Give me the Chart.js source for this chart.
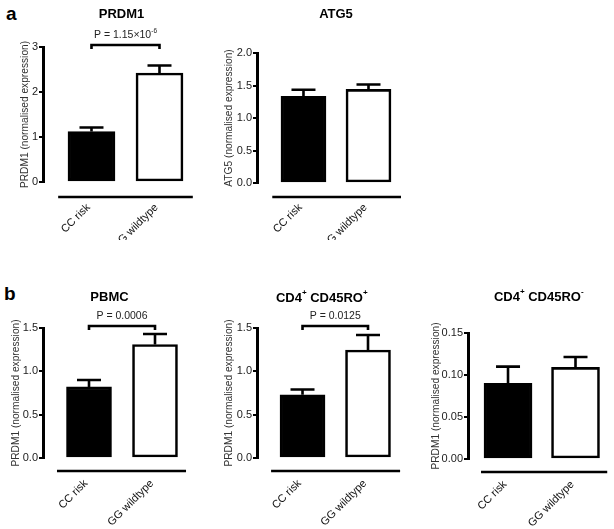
<!DOCTYPE html>
<html>
<head>
<meta charset="utf-8">
<script src="https://cdn.jsdelivr.net/npm/chart.js@4.4.0/dist/chart.umd.min.js"></script>
<style>
  body { margin: 0; background: #fff; }
  #fig { position: relative; width: 614px; height: 529px; overflow: hidden; font-family: "Liberation Sans", Arial, sans-serif; }
  .box { position: absolute; }
  .tag { position: absolute; font-weight: bold; font-size: 19px; line-height: 19px; }
</style>
</head>
<body>
<div id="fig">
  <div class="tag" style="left:6px;top:4px">a</div>
  <div class="tag" style="left:4px;top:284px">b</div>
  <div class="box" style="left:0px;top:0px"><canvas id="prdm1" width="210" height="240"></canvas></div>
  <div class="box" style="left:210px;top:0px"><canvas id="atg5" width="204" height="240"></canvas></div>
  <div class="box" style="left:0px;top:250px"><canvas id="pbmc" width="200" height="279"></canvas></div>
  <div class="box" style="left:200px;top:250px"><canvas id="roPos" width="210" height="279"></canvas></div>
  <div class="box" style="left:410px;top:250px"><canvas id="roNeg" width="204" height="279"></canvas></div>
</div>
<script>
const FONT = "'Liberation Sans', Arial, sans-serif";
const groups = ["CC risk", "GG wildtype"];

// panel a
const prdm1Mean = [1.12, 2.42];
const prdm1Err = [0.09, 0.17];
const prdm1Ticks = [0, 1, 2, 3];
const atg5Mean = [1.335, 1.44];
const atg5Err = [0.10, 0.075];
const atg5Ticks = [0, 0.5, 1, 1.5, 2];

// panel b
const pbmcMean = [0.82, 1.31];
const pbmcErr = [0.08, 0.12];
const roPosMean = [0.73, 1.245];
const roPosErr = [0.06, 0.175];
const bTicks = [0, 0.5, 1, 1.5];
const roNegMean = [0.090, 0.109];
const roNegErr = [0.020, 0.0125];
const roNegTicks = [0, 0.05, 0.1, 0.15];

/* ===============================
   rich text (superscripts)
================================ */
function drawRich(ctx, parts, cx, cy, size, weight) {
  const fontOf = sup => weight + " " + (sup ? size * 0.62 : size) + "px " + FONT;
  let total = 0;
  parts.forEach(p => { ctx.font = fontOf(p[1]); total += ctx.measureText(p[0]).width; });
  let x = cx - total / 2;
  ctx.textAlign = "left";
  ctx.textBaseline = "middle";
  parts.forEach(p => {
    ctx.font = fontOf(p[1]);
    ctx.fillText(p[0], x, p[1] ? cy - size * 0.38 : cy);
    x += ctx.measureText(p[0]).width;
  });
}

/* ===============================
   error bars, bracket, titles, base line
================================ */
const decor = {
  id: "decor",
  afterDatasetsDraw(chart, args, o) {
    const ctx = chart.ctx;
    const xs = chart.scales.x, ys = chart.scales.y;
    const ds = chart.data.datasets[0];
    const bars = chart.getDatasetMeta(0).data;
    const area = chart.chartArea;
    ctx.save();
    ctx.strokeStyle = "#000";
    ctx.fillStyle = "#000";
    ctx.lineWidth = 2.6;
    ctx.lineCap = "butt";

    // error bars (upper only)
    bars.forEach((bar, i) => {
      const top = ys.getPixelForValue(ds.data[i].y + ds.errors[i]);
      ctx.beginPath();
      ctx.moveTo(bar.x, bar.y);
      ctx.lineTo(bar.x, top);
      ctx.moveTo(bar.x - o.cap / 2, top);
      ctx.lineTo(bar.x + o.cap / 2, top);
      ctx.stroke();
    });

    // base line under the groups
    const ly = area.bottom + o.lineGap;
    ctx.beginPath();
    ctx.moveTo(xs.getPixelForValue(o.lineFrom), ly);
    ctx.lineTo(xs.getPixelForValue(o.lineTo), ly);
    ctx.stroke();

    // significance bracket
    if (o.pText) {
      const by = area.top - 2;
      ctx.beginPath();
      ctx.moveTo(bars[0].x, by + 4);
      ctx.lineTo(bars[0].x, by);
      ctx.lineTo(bars[1].x, by);
      ctx.lineTo(bars[1].x, by + 4);
      ctx.stroke();
      ctx.fillStyle = "#222";
      drawRich(ctx, o.pText, (bars[0].x + bars[1].x) / 2, by - 10, 10.5, "normal");
    }

    // panel title
    ctx.fillStyle = "#000";
    drawRich(ctx, o.title, xs.getPixelForValue(0.5) + o.titleShift, o.titleY, 13, "bold");
    ctx.restore();
  }
};

function makePanel(id, means, errs, yTicks, d, L) {
  return new Chart(document.getElementById(id), {
    type: "bar",
    data: {
      datasets: [{
        data: means.map((m, i) => ({ x: i, y: m })),
        errors: errs,
        backgroundColor: ["#000", "#fff"],
        borderColor: "#000",
        borderWidth: 2.6,
        borderSkipped: false,
        barThickness: L.barW
      }]
    },
    options: {
      responsive: false,
      animation: false,
      layout: { padding: { left: 0, top: L.padTop, right: L.padRight, bottom: 0 } },
      scales: {
        x: {
          type: "linear",
          offset: false,
          min: L.xMin,
          max: 1.5,
          grid: { display: false },
          border: { display: false },
          afterBuildTicks: s => { s.ticks = groups.map((g, i) => ({ value: i })); },
          afterFit: s => { s.height = L.xHeight; },
          ticks: {
            autoSkip: false,
            minRotation: 45,
            maxRotation: 45,
            padding: L.labelPad,
            labelOffset: -3,
            color: "#111",
            font: { family: FONT, size: 11 },
            callback: v => groups[v]
          }
        },
        y: {
          min: 0,
          max: yTicks[yTicks.length - 1],
          afterBuildTicks: s => { s.ticks = yTicks.map(v => ({ value: v })); },
          afterFit: s => { s.width = L.yWidth; },
          grid: { drawOnChartArea: false, drawTicks: true, tickLength: 4, color: "#000", lineWidth: 2 },
          border: { display: true, color: "#000", width: 3 },
          ticks: {
            padding: 1,
            color: "#222",
            font: { family: FONT, size: 11 },
            callback: v => v.toFixed(d.decimals)
          },
          title: {
            display: true,
            text: d.yTitle,
            color: "#333",
            font: { family: FONT, size: 10.2 },
            padding: { top: L.titlePad, bottom: 0 }
          }
        }
      },
      plugins: {
        legend: { display: false },
        tooltip: { enabled: false },
        decor: {
          cap: 24,
          lineGap: L.lineGap,
          lineFrom: L.lineFrom,
          lineTo: L.lineTo,
          title: d.title,
          titleY: L.titleY,
          titleShift: L.titleShift,
          pText: d.pText
        }
      }
    },
    plugins: [decor]
  });
}

makePanel("prdm1", prdm1Mean, prdm1Err, prdm1Ticks,
  { decimals: 0, yTitle: "PRDM1 (normalised expression)", title: [["PRDM1"]], pText: [["P = 1.15×10"], ["-6", true]] },
  { yWidth: 43, padTop: 47, padRight: 16.5, xHeight: 58, xMin: -0.713, barW: 47, titlePad: 18.9,
    titleY: 14, titleShift: -4, lineFrom: -0.49, lineTo: 1.49, lineGap: 15, labelPad: 11 });

makePanel("atg5", atg5Mean, atg5Err, atg5Ticks,
  { decimals: 1, yTitle: "ATG5 (normalised expression)", title: [["ATG5"]], pText: null },
  { yWidth: 47, padTop: 53, padRight: 13, xHeight: 57, xMin: -0.715, barW: 45, titlePad: 12.9,
    titleY: 14, titleShift: 0, lineFrom: -0.48, lineTo: 1.5, lineGap: 14, labelPad: 10 });

makePanel("pbmc", pbmcMean, pbmcErr, bTicks,
  { decimals: 1, yTitle: "PRDM1 (normalised expression)", title: [["PBMC"]], pText: [["P = 0.0006"]] },
  { yWidth: 43, padTop: 78, padRight: 12, xHeight: 71, xMin: -0.697, barW: 45, titlePad: 9.9,
    titleY: 47, titleShift: -12.5, lineFrom: -0.485, lineTo: 1.47, lineGap: 13, labelPad: 11 });

makePanel("roPos", roPosMean, roPosErr, bTicks,
  { decimals: 1, yTitle: "PRDM1 (normalised expression)", title: [["CD4"], ["+", true], [" CD45RO"], ["+", true]], pText: [["P = 0.0125"]] },
  { yWidth: 57, padTop: 78, padRight: 9.25, xHeight: 71, xMin: -0.695, barW: 45, titlePad: 23.4,
    titleY: 48, titleShift: -13.5, lineFrom: -0.48, lineTo: 1.49, lineGap: 13, labelPad: 11 });

makePanel("roNeg", roNegMean, roNegErr, roNegTicks,
  { decimals: 2, yTitle: "PRDM1 (normalised expression)", title: [["CD4"], ["+", true], [" CD45RO"], ["-", true]], pText: null },
  { yWidth: 58, padTop: 83, padRight: 4.75, xHeight: 70, xMin: -0.593, barW: 48, titlePad: 19.9,
    titleY: 47, titleShift: -3, lineFrom: -0.4, lineTo: 1.47, lineGap: 13, labelPad: 11 });
</script>
</body>
</html>
